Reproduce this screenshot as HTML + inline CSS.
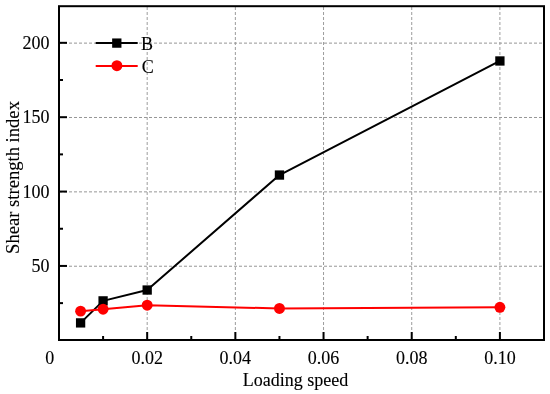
<!DOCTYPE html><html><head><meta charset="utf-8"><style>html,body{margin:0;padding:0;background:#fff;}svg{display:block;will-change:transform;}text{font-family:"Liberation Serif",serif;fill:#000;stroke:#000;stroke-width:0.12px;}</style></head><body>
<svg width="550" height="394" viewBox="0 0 550 394">
<rect width="550" height="394" fill="#fff"/>
<g stroke="#969696" stroke-width="1" stroke-dasharray="3 2" fill="none"><line x1="59" y1="266.23" x2="544" y2="266.23"/><line x1="59" y1="191.86" x2="544" y2="191.86"/><line x1="59" y1="117.49" x2="544" y2="117.49"/><line x1="59" y1="43.12" x2="544" y2="43.12"/><line x1="147.18" y1="340" x2="147.18" y2="6.2" stroke="#9c9c9c"/><line x1="235.36" y1="340" x2="235.36" y2="6.2" stroke="#9c9c9c"/><line x1="323.54" y1="340" x2="323.54" y2="6.2" stroke="#9c9c9c"/><line x1="411.72" y1="340" x2="411.72" y2="6.2" stroke="#9c9c9c"/><line x1="499.90" y1="340" x2="499.90" y2="6.2" stroke="#9c9c9c"/></g>
<g stroke="#000" stroke-width="2" fill="none"><line x1="58" y1="265.93" x2="67" y2="265.93"/><line x1="58" y1="191.56" x2="67" y2="191.56"/><line x1="58" y1="117.19" x2="67" y2="117.19"/><line x1="58" y1="42.82" x2="67" y2="42.82"/><line x1="58" y1="303.12" x2="63" y2="303.12"/><line x1="58" y1="228.75" x2="63" y2="228.75"/><line x1="58" y1="154.38" x2="63" y2="154.38"/><line x1="58" y1="80.00" x2="63" y2="80.00"/><line x1="147.18" y1="341" x2="147.18" y2="332"/><line x1="235.36" y1="341" x2="235.36" y2="332"/><line x1="323.54" y1="341" x2="323.54" y2="332"/><line x1="411.72" y1="341" x2="411.72" y2="332"/><line x1="499.90" y1="341" x2="499.90" y2="332"/><line x1="103.09" y1="341" x2="103.09" y2="336"/><line x1="191.27" y1="341" x2="191.27" y2="336"/><line x1="279.45" y1="341" x2="279.45" y2="336"/><line x1="367.63" y1="341" x2="367.63" y2="336"/><line x1="455.81" y1="341" x2="455.81" y2="336"/></g>
<rect x="59" y="6.2" width="485" height="333.8" fill="none" stroke="#000" stroke-width="2"/>
<polyline points="80.60,322.90 103.09,300.88 147.18,290.03 279.45,175.05 499.90,60.97" fill="none" stroke="#000" stroke-width="2" stroke-linejoin="round"/>
<rect x="75.95" y="318.25" width="9.3" height="9.3" fill="#000"/>
<rect x="98.44" y="296.23" width="9.3" height="9.3" fill="#000"/>
<rect x="142.53" y="285.38" width="9.3" height="9.3" fill="#000"/>
<rect x="274.80" y="170.40" width="9.3" height="9.3" fill="#000"/>
<rect x="495.25" y="56.32" width="9.3" height="9.3" fill="#000"/>
<polyline points="80.60,311.15 103.09,309.21 147.18,305.20 279.45,308.47 499.90,307.28" fill="none" stroke="#f00" stroke-width="2" stroke-linejoin="round"/>
<circle cx="80.60" cy="311.15" r="5.45" fill="#f00"/>
<circle cx="103.09" cy="309.21" r="5.45" fill="#f00"/>
<circle cx="147.18" cy="305.20" r="5.45" fill="#f00"/>
<circle cx="279.45" cy="308.47" r="5.45" fill="#f00"/>
<circle cx="499.90" cy="307.28" r="5.45" fill="#f00"/>
<line x1="95.7" y1="43" x2="137.7" y2="43" stroke="#000" stroke-width="2"/>
<rect x="112.15" y="38.45" width="9.3" height="9.3" fill="#000"/>
<line x1="95.7" y1="65.9" x2="137.7" y2="65.9" stroke="#f00" stroke-width="2"/>
<circle cx="116.9" cy="65.7" r="5.45" fill="#f00"/>
<g>
<text x="141" y="49.6" font-size="18">B</text>
<text x="141.8" y="72.9" font-size="18">C</text>
<text x="49.6" y="272.23" font-size="18" text-anchor="end">50</text>
<text x="49.6" y="197.86" font-size="18" text-anchor="end">100</text>
<text x="49.6" y="123.49" font-size="18" text-anchor="end">150</text>
<text x="49.6" y="49.12" font-size="18" text-anchor="end">200</text>
<text x="147.18" y="363.6" font-size="18" text-anchor="middle">0.02</text>
<text x="235.36" y="363.6" font-size="18" text-anchor="middle">0.04</text>
<text x="323.54" y="363.6" font-size="18" text-anchor="middle">0.06</text>
<text x="411.72" y="363.6" font-size="18" text-anchor="middle">0.08</text>
<text x="499.90" y="363.6" font-size="18" text-anchor="middle">0.10</text>
<text x="49.8" y="363.6" font-size="18" text-anchor="middle">0</text>
<text x="295.6" y="386.4" font-size="18" text-anchor="middle">Loading speed</text>
<text transform="translate(19,177.5) rotate(-90)" x="0" y="0" font-size="18.6" text-anchor="middle">Shear strength index</text>
</g>
</svg></body></html>
